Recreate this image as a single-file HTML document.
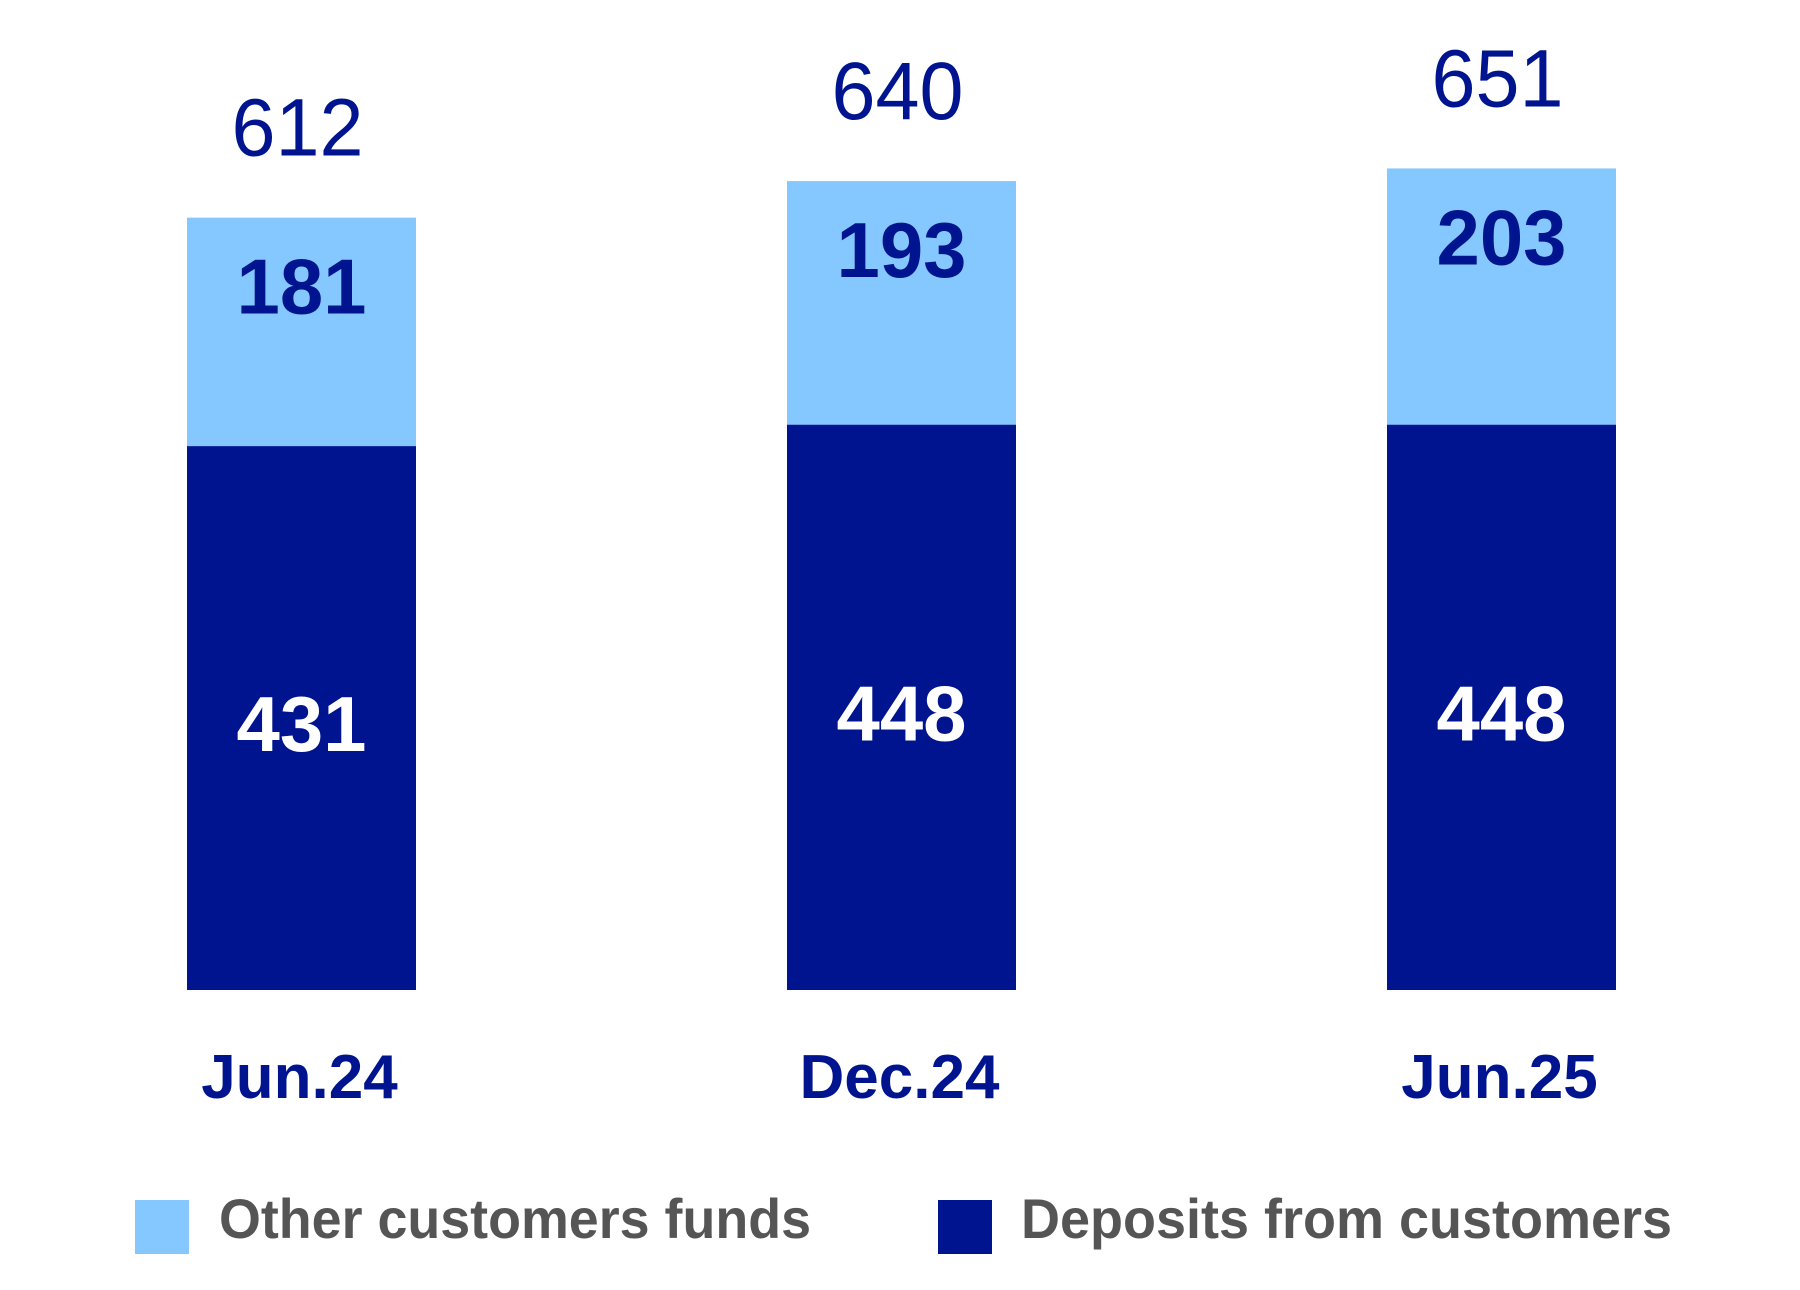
<!DOCTYPE html>
<html><head><meta charset="utf-8"><style>html,body{margin:0;padding:0;background:#fff;}svg{display:block;}</style></head>
<body>
<svg id="chart" width="1800" height="1290" viewBox="0 0 1800 1290" font-family="Liberation Sans, sans-serif">
<g id="bars"></g>
<g>
  <rect x="135" y="1200" width="54" height="54" fill="#85C8FF"/>
  <text x="219" y="1238" font-size="56" font-weight="bold" fill="#555555" textLength="592" lengthAdjust="spacingAndGlyphs">Other customers funds</text>
  <rect x="938" y="1200" width="54" height="54" fill="#00148F"/>
  <text x="1021" y="1238" font-size="56" font-weight="bold" fill="#555555" textLength="651" lengthAdjust="spacingAndGlyphs">Deposits from customers</text>
</g>
</svg>
<script>
const categories = ["Jun.24", "Dec.24", "Jun.25"];
const deposits = [431, 448, 448];
const otherFunds = [181, 193, 203];
const totals = [612, 640, 651];

const NS = "http://www.w3.org/2000/svg";
const g = document.getElementById("bars");
const baseY = 990, k = 1.262, barW = 229;
const x0 = 187, step = 600;
function xPos(i){ return x0 + i*step; }
function yPos(v){ return baseY - v*k; }
function mk(tag, attrs, txt){
  const e = document.createElementNS(NS, tag);
  for (const a in attrs) e.setAttribute(a, attrs[a]);
  if (txt !== undefined) e.textContent = txt;
  g.appendChild(e);
  return e;
}
categories.forEach((c, i) => {
  const x = xPos(i), cx = x + barW/2;
  const yd = yPos(deposits[i]);
  const yt = yPos(deposits[i] + otherFunds[i]);
  const r1 = mk("rect", {x: x, y: yd, width: barW, height: baseY - yd, fill: "#00148F"});
  
  
  const r2 = mk("rect", {x: x, y: yt, width: barW, height: yd - yt, fill: "#85C8FF"});
  
  
  const t1 = mk("text", {x: cx, y: (yd + baseY)/2 + 33, "text-anchor": "middle", "font-size": 78, "font-weight": "bold", fill: "#ffffff", textLength: 130, lengthAdjust: "spacingAndGlyphs"}, deposits[i]);
  
  
  const t2 = mk("text", {x: cx, y: yt + 96, "text-anchor": "middle", "font-size": 78, "font-weight": "bold", fill: "#00148F", textLength: 130, lengthAdjust: "spacingAndGlyphs"}, otherFunds[i]);
  
  
  const t3 = mk("text", {x: cx - 4, y: yt - 62, "text-anchor": "middle", "font-size": 82, fill: "#00148F", textLength: 132, lengthAdjust: "spacingAndGlyphs"}, totals[i]);
  
  
  const t4 = mk("text", {x: cx - 2, y: 1098, "text-anchor": "middle", "font-size": 62, "font-weight": "bold", fill: "#00148F"}, c);
  
  
});
</script>
</body></html>
